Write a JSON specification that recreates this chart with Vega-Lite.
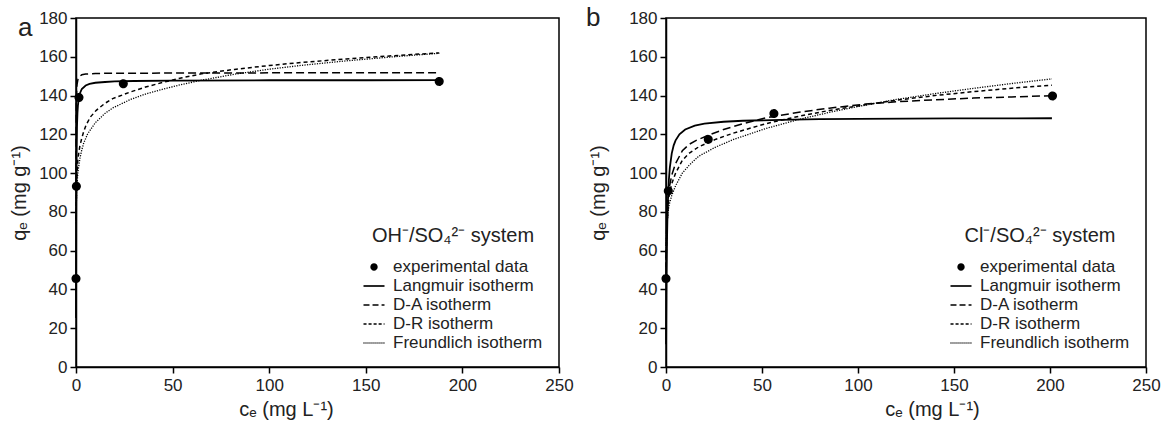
{
  "$schema": "https://vega.github.io/schema/vega-lite/v6.json",
  "padding": {"left": 8, "top": 4, "right": 1, "bottom": 1},
  "spacing": 11,
  "resolve": {
    "scale": {"strokeDash": "independent", "shape": "independent"},
    "legend": {"strokeDash": "independent", "shape": "independent"}
  },
  "config": {
    "font": "Liberation Sans",
    "view": {"stroke": "black", "strokeWidth": 1.5},
    "axis": {
      "domainColor": "black", "domainWidth": 1.5,
      "tickColor": "black", "tickWidth": 1.5, "tickSize": 6,
      "labelFontSize": 17, "labelColor": "#222", "labelFont": "Liberation Sans",
      "titleFontSize": 20, "titleFontWeight": "normal", "titleColor": "#222", "titleFont": "Liberation Sans",
      "grid": false, "labelFlush": false, "labelOverlap": false
    },
    "legend": {
      "orient": "bottom-right", "offset": 16, "padding": 0,
      "titleFontSize": 20, "titleFontWeight": "normal", "titleColor": "#222", "titleFont": "Liberation Sans",
      "titleAnchor": "middle", "titleAlign": "center", "titlePadding": 10, "titleLimit": 400,
      "labelFontSize": 17, "labelColor": "#222", "labelOffset": 8, "labelFont": "Liberation Sans", "labelLimit": 400,
      "symbolSize": 441, "symbolStrokeWidth": 0.5,
      "rowPadding": 0
    },
    "title": {"fontSize": 26, "fontWeight": "normal", "anchor": "start", "frame": "group", "offset": 0, "baseline": "alphabetic", "color": "#222", "font": "Liberation Sans"}
  },
  "datasets": {
    "curvesA": [
      {"model": "Langmuir isotherm", "c": 0.02, "q": 25.3},
      {"model": "Langmuir isotherm", "c": 0.05, "q": 50.3},
      {"model": "Langmuir isotherm", "c": 0.1, "q": 75.1},
      {"model": "Langmuir isotherm", "c": 0.2, "q": 99.6},
      {"model": "Langmuir isotherm", "c": 0.3, "q": 111.8},
      {"model": "Langmuir isotherm", "c": 0.5, "q": 123.9},
      {"model": "Langmuir isotherm", "c": 0.75, "q": 131.0},
      {"model": "Langmuir isotherm", "c": 1, "q": 134.9},
      {"model": "Langmuir isotherm", "c": 1.5, "q": 139.0},
      {"model": "Langmuir isotherm", "c": 2, "q": 141.1},
      {"model": "Langmuir isotherm", "c": 3, "q": 143.4},
      {"model": "Langmuir isotherm", "c": 5, "q": 145.2},
      {"model": "Langmuir isotherm", "c": 7, "q": 146.0},
      {"model": "Langmuir isotherm", "c": 10, "q": 146.6},
      {"model": "Langmuir isotherm", "c": 15, "q": 147.0},
      {"model": "Langmuir isotherm", "c": 20, "q": 147.3},
      {"model": "Langmuir isotherm", "c": 30, "q": 147.5},
      {"model": "Langmuir isotherm", "c": 50, "q": 147.7},
      {"model": "Langmuir isotherm", "c": 100, "q": 147.9},
      {"model": "Langmuir isotherm", "c": 150, "q": 147.9},
      {"model": "Langmuir isotherm", "c": 188, "q": 148.0},
      {"model": "D-A isotherm", "c": 0.02, "q": 95},
      {"model": "D-A isotherm", "c": 0.05, "q": 118},
      {"model": "D-A isotherm", "c": 0.1, "q": 131},
      {"model": "D-A isotherm", "c": 0.2, "q": 139},
      {"model": "D-A isotherm", "c": 0.5, "q": 145.5},
      {"model": "D-A isotherm", "c": 1, "q": 148.3},
      {"model": "D-A isotherm", "c": 2, "q": 150.0},
      {"model": "D-A isotherm", "c": 3, "q": 150.7},
      {"model": "D-A isotherm", "c": 5, "q": 151.1},
      {"model": "D-A isotherm", "c": 10, "q": 151.4},
      {"model": "D-A isotherm", "c": 20, "q": 151.5},
      {"model": "D-A isotherm", "c": 50, "q": 151.6},
      {"model": "D-A isotherm", "c": 100, "q": 151.7},
      {"model": "D-A isotherm", "c": 150, "q": 151.8},
      {"model": "D-A isotherm", "c": 188, "q": 151.8},
      {"model": "D-R isotherm", "c": 0.05, "q": 76},
      {"model": "D-R isotherm", "c": 0.1, "q": 83},
      {"model": "D-R isotherm", "c": 0.3, "q": 94},
      {"model": "D-R isotherm", "c": 0.5, "q": 99.5},
      {"model": "D-R isotherm", "c": 1, "q": 107.5},
      {"model": "D-R isotherm", "c": 2, "q": 114},
      {"model": "D-R isotherm", "c": 3, "q": 118},
      {"model": "D-R isotherm", "c": 4, "q": 121.5},
      {"model": "D-R isotherm", "c": 5.3, "q": 125},
      {"model": "D-R isotherm", "c": 7.5, "q": 129},
      {"model": "D-R isotherm", "c": 10.5, "q": 132.4},
      {"model": "D-R isotherm", "c": 15, "q": 136},
      {"model": "D-R isotherm", "c": 19, "q": 138.4},
      {"model": "D-R isotherm", "c": 28, "q": 141.8},
      {"model": "D-R isotherm", "c": 36, "q": 144.4},
      {"model": "D-R isotherm", "c": 45, "q": 146.8},
      {"model": "D-R isotherm", "c": 55, "q": 149.2},
      {"model": "D-R isotherm", "c": 65, "q": 151.2},
      {"model": "D-R isotherm", "c": 82, "q": 153.5},
      {"model": "D-R isotherm", "c": 100, "q": 155.5},
      {"model": "D-R isotherm", "c": 117, "q": 157.1},
      {"model": "D-R isotherm", "c": 140, "q": 158.9},
      {"model": "D-R isotherm", "c": 168, "q": 160.8},
      {"model": "D-R isotherm", "c": 188, "q": 162.0},
      {"model": "Freundlich isotherm", "c": 0.05, "q": 74},
      {"model": "Freundlich isotherm", "c": 0.1, "q": 80},
      {"model": "Freundlich isotherm", "c": 0.3, "q": 89.5},
      {"model": "Freundlich isotherm", "c": 0.5, "q": 94},
      {"model": "Freundlich isotherm", "c": 1, "q": 100.6},
      {"model": "Freundlich isotherm", "c": 2, "q": 107.5},
      {"model": "Freundlich isotherm", "c": 3, "q": 112},
      {"model": "Freundlich isotherm", "c": 4, "q": 115.5},
      {"model": "Freundlich isotherm", "c": 6, "q": 120.2},
      {"model": "Freundlich isotherm", "c": 10, "q": 126},
      {"model": "Freundlich isotherm", "c": 15, "q": 130.8},
      {"model": "Freundlich isotherm", "c": 19, "q": 133.6},
      {"model": "Freundlich isotherm", "c": 28, "q": 137.9},
      {"model": "Freundlich isotherm", "c": 36, "q": 140.8},
      {"model": "Freundlich isotherm", "c": 45, "q": 143.3},
      {"model": "Freundlich isotherm", "c": 55, "q": 145.8},
      {"model": "Freundlich isotherm", "c": 65, "q": 147.9},
      {"model": "Freundlich isotherm", "c": 82, "q": 151.0},
      {"model": "Freundlich isotherm", "c": 100, "q": 153.6},
      {"model": "Freundlich isotherm", "c": 117, "q": 155.6},
      {"model": "Freundlich isotherm", "c": 140, "q": 157.9},
      {"model": "Freundlich isotherm", "c": 168, "q": 160.3},
      {"model": "Freundlich isotherm", "c": 188, "q": 161.8}
    ],
    "pointsA": [
      {"model": "experimental data", "c": 0, "q": 45.6},
      {"model": "experimental data", "c": 0.2, "q": 93.2},
      {"model": "experimental data", "c": 1.55, "q": 139.0},
      {"model": "experimental data", "c": 24.5, "q": 146.1},
      {"model": "experimental data", "c": 188, "q": 147.3}
    ],
    "curvesB": [
      {"model": "Langmuir isotherm", "c": 0.05, "q": 11.7},
      {"model": "Langmuir isotherm", "c": 0.1, "q": 21.4},
      {"model": "Langmuir isotherm", "c": 0.2, "q": 36.7},
      {"model": "Langmuir isotherm", "c": 0.3, "q": 48.2},
      {"model": "Langmuir isotherm", "c": 0.5, "q": 64.3},
      {"model": "Langmuir isotherm", "c": 0.75, "q": 77.2},
      {"model": "Langmuir isotherm", "c": 1, "q": 85.7},
      {"model": "Langmuir isotherm", "c": 1.5, "q": 96.5},
      {"model": "Langmuir isotherm", "c": 2, "q": 102.9},
      {"model": "Langmuir isotherm", "c": 3, "q": 110.2},
      {"model": "Langmuir isotherm", "c": 4, "q": 114.3},
      {"model": "Langmuir isotherm", "c": 5, "q": 116.9},
      {"model": "Langmuir isotherm", "c": 7, "q": 120.0},
      {"model": "Langmuir isotherm", "c": 10, "q": 122.5},
      {"model": "Langmuir isotherm", "c": 15, "q": 124.5},
      {"model": "Langmuir isotherm", "c": 20, "q": 125.5},
      {"model": "Langmuir isotherm", "c": 30, "q": 126.5},
      {"model": "Langmuir isotherm", "c": 40, "q": 127.0},
      {"model": "Langmuir isotherm", "c": 60, "q": 127.5},
      {"model": "Langmuir isotherm", "c": 80, "q": 127.8},
      {"model": "Langmuir isotherm", "c": 100, "q": 128.0},
      {"model": "Langmuir isotherm", "c": 150, "q": 128.2},
      {"model": "Langmuir isotherm", "c": 201, "q": 128.3},
      {"model": "D-A isotherm", "c": 0.05, "q": 50},
      {"model": "D-A isotherm", "c": 0.1, "q": 58},
      {"model": "D-A isotherm", "c": 0.3, "q": 70},
      {"model": "D-A isotherm", "c": 0.5, "q": 76},
      {"model": "D-A isotherm", "c": 1, "q": 85},
      {"model": "D-A isotherm", "c": 1.6, "q": 92},
      {"model": "D-A isotherm", "c": 3, "q": 99},
      {"model": "D-A isotherm", "c": 5, "q": 105},
      {"model": "D-A isotherm", "c": 8.5, "q": 111.5},
      {"model": "D-A isotherm", "c": 12, "q": 114.8},
      {"model": "D-A isotherm", "c": 16, "q": 117.0},
      {"model": "D-A isotherm", "c": 22, "q": 119.5},
      {"model": "D-A isotherm", "c": 30, "q": 122.5},
      {"model": "D-A isotherm", "c": 40, "q": 125.5},
      {"model": "D-A isotherm", "c": 52, "q": 128.5},
      {"model": "D-A isotherm", "c": 70, "q": 131.5},
      {"model": "D-A isotherm", "c": 85, "q": 133.5},
      {"model": "D-A isotherm", "c": 104, "q": 135.6},
      {"model": "D-A isotherm", "c": 120, "q": 136.8},
      {"model": "D-A isotherm", "c": 140, "q": 137.8},
      {"model": "D-A isotherm", "c": 160, "q": 138.7},
      {"model": "D-A isotherm", "c": 180, "q": 139.3},
      {"model": "D-A isotherm", "c": 201, "q": 139.9},
      {"model": "D-R isotherm", "c": 0.05, "q": 48},
      {"model": "D-R isotherm", "c": 0.1, "q": 55},
      {"model": "D-R isotherm", "c": 0.3, "q": 66},
      {"model": "D-R isotherm", "c": 0.5, "q": 72},
      {"model": "D-R isotherm", "c": 1, "q": 82},
      {"model": "D-R isotherm", "c": 1.6, "q": 88.5},
      {"model": "D-R isotherm", "c": 3, "q": 94.5},
      {"model": "D-R isotherm", "c": 5, "q": 100},
      {"model": "D-R isotherm", "c": 8.5, "q": 106.6},
      {"model": "D-R isotherm", "c": 12, "q": 110.2},
      {"model": "D-R isotherm", "c": 17, "q": 113.5},
      {"model": "D-R isotherm", "c": 26, "q": 117.5},
      {"model": "D-R isotherm", "c": 35, "q": 120.6},
      {"model": "D-R isotherm", "c": 52, "q": 125.5},
      {"model": "D-R isotherm", "c": 70, "q": 129.5},
      {"model": "D-R isotherm", "c": 85, "q": 132.3},
      {"model": "D-R isotherm", "c": 104, "q": 135.3},
      {"model": "D-R isotherm", "c": 120, "q": 137.6},
      {"model": "D-R isotherm", "c": 140, "q": 140.0},
      {"model": "D-R isotherm", "c": 160, "q": 142.0},
      {"model": "D-R isotherm", "c": 180, "q": 143.8},
      {"model": "D-R isotherm", "c": 201, "q": 145.3},
      {"model": "Freundlich isotherm", "c": 0.05, "q": 56},
      {"model": "Freundlich isotherm", "c": 0.1, "q": 61},
      {"model": "Freundlich isotherm", "c": 0.3, "q": 69},
      {"model": "Freundlich isotherm", "c": 0.5, "q": 73},
      {"model": "Freundlich isotherm", "c": 1, "q": 79},
      {"model": "Freundlich isotherm", "c": 1.6, "q": 83.5},
      {"model": "Freundlich isotherm", "c": 3, "q": 88.5},
      {"model": "Freundlich isotherm", "c": 5, "q": 93.5},
      {"model": "Freundlich isotherm", "c": 8.5, "q": 100},
      {"model": "Freundlich isotherm", "c": 12, "q": 104},
      {"model": "Freundlich isotherm", "c": 17, "q": 108.7},
      {"model": "Freundlich isotherm", "c": 26, "q": 113.5},
      {"model": "Freundlich isotherm", "c": 35, "q": 117.3},
      {"model": "Freundlich isotherm", "c": 52, "q": 123.0},
      {"model": "Freundlich isotherm", "c": 70, "q": 127.9},
      {"model": "Freundlich isotherm", "c": 85, "q": 131.3},
      {"model": "Freundlich isotherm", "c": 104, "q": 135.1},
      {"model": "Freundlich isotherm", "c": 120, "q": 138.0},
      {"model": "Freundlich isotherm", "c": 140, "q": 141.0},
      {"model": "Freundlich isotherm", "c": 160, "q": 143.7},
      {"model": "Freundlich isotherm", "c": 180, "q": 146.2},
      {"model": "Freundlich isotherm", "c": 201, "q": 148.6}
    ],
    "pointsB": [
      {"model": "experimental data", "c": 0, "q": 45.6},
      {"model": "experimental data", "c": 1.2, "q": 90.8},
      {"model": "experimental data", "c": 22.0, "q": 117.4},
      {"model": "experimental data", "c": 56.2, "q": 130.7},
      {"model": "experimental data", "c": 201.3, "q": 139.8}
    ]
  },
  "hconcat": [
    {
      "width": 483,
      "height": 349,
      "title": {"text": "a", "dx": -58, "dy": 36},
      "encoding": {
        "x": {"field": "c", "type": "quantitative", "scale": {"domain": [0, 250]},
              "axis": {"values": [0, 50, 100, 150, 200, 250], "title": "cₑ (mg L⁻¹)", "titleX": 210, "labelPadding": 4, "titlePadding": 6}},
        "y": {"field": "q", "type": "quantitative", "scale": {"domain": [0, 180]},
              "axis": {"values": [0, 20, 40, 60, 80, 100, 120, 140, 160, 180], "labelOverlap": false, "title": "qₑ (mg g⁻¹)", "labelPadding": 3, "titlePadding": 9}}
      },
      "layer": [
        {"data": {"name": "curvesA"}, "transform": [{"filter": "datum.model === 'Langmuir isotherm'"}],
         "mark": {"type": "line", "color": "black", "strokeWidth": 1.8}, "encoding": {}},
        {"data": {"name": "curvesA"}, "transform": [{"filter": "datum.model === 'D-A isotherm'"}],
         "mark": {"type": "line", "color": "black", "strokeWidth": 1.5, "strokeDash": [8, 4]}, "encoding": {}},
        {"data": {"name": "curvesA"}, "transform": [{"filter": "datum.model === 'D-R isotherm'"}],
         "mark": {"type": "line", "color": "black", "strokeWidth": 1.5, "strokeDash": [4, 3]}, "encoding": {}},
        {"data": {"name": "curvesA"}, "transform": [{"filter": "datum.model === 'Freundlich isotherm'"}],
         "mark": {"type": "line", "color": "black", "strokeWidth": 1.3, "strokeDash": [1.2, 1.3]}, "encoding": {}},
        {
          "data": {"name": "pointsA"},
          "mark": {"type": "point", "filled": false, "fill": "black", "fillOpacity": 1, "stroke": "black", "strokeWidth": 1.5, "size": 460, "opacity": 1},
          "encoding": {
            "shape": {
              "field": "model", "type": "nominal",
              "scale": {"domain": ["experimental data", "Langmuir isotherm", "D-A isotherm", "D-R isotherm", "Freundlich isotherm"],
                        "range": [
                          "M-0.35,0A0.35,0.35,0,1,0,0.35,0A0.35,0.35,0,1,0,-0.35,0Z",
                          "M-1,-0.08H1V0.08H-1Z",
                          "M-1,-0.07H-0.43V0.07H-1ZM-0.14,-0.07H0.43V0.07H-0.14ZM0.72,-0.07H1V0.07H0.72Z",
                          "M-1,-0.07H-0.71V0.07H-1ZM-0.52,-0.07H-0.23V0.07H-0.52ZM-0.04,-0.07H0.25V0.07H-0.04ZM0.44,-0.07H0.73V0.07H0.44ZM0.92,-0.07H1V0.07H0.92Z",
                          "M-1,-0.07H-0.905V0.07H-1ZM-0.81,-0.07H-0.715V0.07H-0.81ZM-0.62,-0.07H-0.525V0.07H-0.62ZM-0.43,-0.07H-0.335V0.07H-0.43ZM-0.24,-0.07H-0.145V0.07H-0.24ZM-0.05,-0.07H0.045V0.07H-0.05ZM0.14,-0.07H0.235V0.07H0.14ZM0.33,-0.07H0.425V0.07H0.33ZM0.52,-0.07H0.615V0.07H0.52ZM0.71,-0.07H0.805V0.07H0.71ZM0.9,-0.07H0.995V0.07H0.9Z"
                        ]},
              "legend": {"title": "OH⁻/SO₄²⁻ system", "symbolStrokeColor": "black", "symbolFillColor": "black"}
            },
            "strokeDash": {
              "field": "model", "type": "nominal",
              "scale": {"domain": ["experimental data", "Langmuir isotherm", "D-A isotherm", "D-R isotherm", "Freundlich isotherm"],
                        "range": [[1, 0], [1, 0], [1, 0], [1, 0], [1, 0]]},
              "legend": {"title": "OH⁻/SO₄²⁻ system", "symbolStrokeColor": "black", "symbolFillColor": "black"}
            }
          }
        }
      ]
    },
    {
      "width": 480,
      "height": 349,
      "title": {"text": "b", "dx": -80, "dy": 26},
      "encoding": {
        "x": {"field": "c", "type": "quantitative", "scale": {"domain": [0, 250]},
              "axis": {"values": [0, 50, 100, 150, 200, 250], "title": "cₑ (mg L⁻¹)", "titleX": 266, "labelPadding": 4, "titlePadding": 6}},
        "y": {"field": "q", "type": "quantitative", "scale": {"domain": [0, 180]},
              "axis": {"values": [0, 20, 40, 60, 80, 100, 120, 140, 160, 180], "labelOverlap": false, "title": "qₑ (mg g⁻¹)", "labelPadding": 3, "titlePadding": 20}}
      },
      "layer": [
        {"data": {"name": "curvesB"}, "transform": [{"filter": "datum.model === 'Langmuir isotherm'"}],
         "mark": {"type": "line", "color": "black", "strokeWidth": 1.8}, "encoding": {}},
        {"data": {"name": "curvesB"}, "transform": [{"filter": "datum.model === 'D-A isotherm'"}],
         "mark": {"type": "line", "color": "black", "strokeWidth": 1.5, "strokeDash": [8, 4]}, "encoding": {}},
        {"data": {"name": "curvesB"}, "transform": [{"filter": "datum.model === 'D-R isotherm'"}],
         "mark": {"type": "line", "color": "black", "strokeWidth": 1.5, "strokeDash": [4, 3]}, "encoding": {}},
        {"data": {"name": "curvesB"}, "transform": [{"filter": "datum.model === 'Freundlich isotherm'"}],
         "mark": {"type": "line", "color": "black", "strokeWidth": 1.3, "strokeDash": [1.2, 1.3]}, "encoding": {}},
        {
          "data": {"name": "pointsB"},
          "mark": {"type": "point", "filled": false, "fill": "black", "fillOpacity": 1, "stroke": "black", "strokeWidth": 1.5, "size": 460, "opacity": 1},
          "encoding": {
            "shape": {
              "field": "model", "type": "nominal",
              "scale": {"domain": ["experimental data", "Langmuir isotherm", "D-A isotherm", "D-R isotherm", "Freundlich isotherm"],
                        "range": [
                          "M-0.35,0A0.35,0.35,0,1,0,0.35,0A0.35,0.35,0,1,0,-0.35,0Z",
                          "M-1,-0.08H1V0.08H-1Z",
                          "M-1,-0.07H-0.43V0.07H-1ZM-0.14,-0.07H0.43V0.07H-0.14ZM0.72,-0.07H1V0.07H0.72Z",
                          "M-1,-0.07H-0.71V0.07H-1ZM-0.52,-0.07H-0.23V0.07H-0.52ZM-0.04,-0.07H0.25V0.07H-0.04ZM0.44,-0.07H0.73V0.07H0.44ZM0.92,-0.07H1V0.07H0.92Z",
                          "M-1,-0.07H-0.905V0.07H-1ZM-0.81,-0.07H-0.715V0.07H-0.81ZM-0.62,-0.07H-0.525V0.07H-0.62ZM-0.43,-0.07H-0.335V0.07H-0.43ZM-0.24,-0.07H-0.145V0.07H-0.24ZM-0.05,-0.07H0.045V0.07H-0.05ZM0.14,-0.07H0.235V0.07H0.14ZM0.33,-0.07H0.425V0.07H0.33ZM0.52,-0.07H0.615V0.07H0.52ZM0.71,-0.07H0.805V0.07H0.71ZM0.9,-0.07H0.995V0.07H0.9Z"
                        ]},
              "legend": {"title": "Cl⁻/SO₄²⁻ system", "symbolStrokeColor": "black", "symbolFillColor": "black"}
            },
            "strokeDash": {
              "field": "model", "type": "nominal",
              "scale": {"domain": ["experimental data", "Langmuir isotherm", "D-A isotherm", "D-R isotherm", "Freundlich isotherm"],
                        "range": [[1, 0], [1, 0], [1, 0], [1, 0], [1, 0]]},
              "legend": {"title": "Cl⁻/SO₄²⁻ system", "symbolStrokeColor": "black", "symbolFillColor": "black"}
            }
          }
        }
      ]
    }
  ]
}
